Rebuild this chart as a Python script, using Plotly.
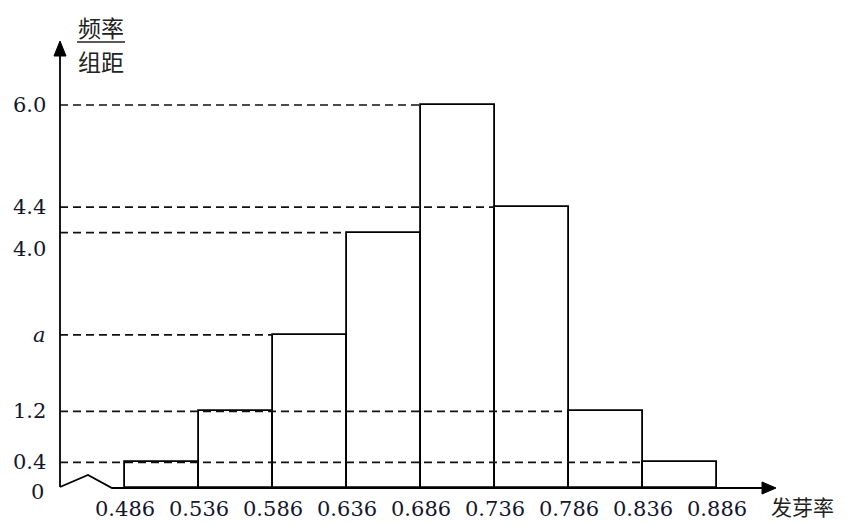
import plotly.graph_objects as go

# ---- data ----
edges = [0.486, 0.536, 0.586, 0.636, 0.686, 0.736, 0.786, 0.836, 0.886]
heights = [0.4, 1.2, 2.4, 4.0, 6.0, 4.4, 1.2, 0.4]
edge_labels = ["0.486", "0.536", "0.586", "0.636", "0.686", "0.736", "0.786", "0.836", "0.886"]
y_ticks = [6.0, 4.4, 4.0, 2.4, 1.2, 0.4, 0]
y_tick_labels = ["6.0", "4.4", "4.0", "<i>a</i>", "1.2", "0.4", "0"]

# page is rendered with an 8px body margin; compensate
OFF = 8
PW, PH = 847, 524
W, H = PW - OFF, PH - OFF

# scale: 1480 px per x unit, x=0 at page px -594.3 ; 63.83 px per y unit, y=0 at page px 488
XS, XZ = 1480.0, -594.3
YS, YZ = 63.83, 488.0


def x_of_px(p):
    return (p - XZ) / XS


def y_of_px(p):
    return (YZ - p) / YS


X0, X1 = x_of_px(OFF), x_of_px(PW)
Y1, Y0 = y_of_px(OFF), y_of_px(PH)

INK = "#15152e"
SERIF = "DejaVu Serif"
CJK = "Noto Sans CJK SC"

centers = [(edges[i] + edges[i + 1]) / 2 for i in range(len(heights))]
bw = edges[1] - edges[0]

fig = go.Figure()

# dashed reference lines: from the y axis to the left edge of the last bar of that height
axis_x = x_of_px(60)
for h in sorted(set(heights)):
    idx = max(i for i, v in enumerate(heights) if v == h)
    fig.add_trace(go.Scatter(
        x=[axis_x, edges[idx]], y=[h, h], mode="lines",
        line=dict(color="#111", width=1.7, dash="8px,5px"),
        hoverinfo="skip", showlegend=False))

fig.add_trace(go.Bar(
    x=centers, y=heights, width=bw,
    marker=dict(color="rgba(0,0,0,0)", line=dict(color="black", width=1.8)),
    showlegend=False, hoverinfo="skip"))

# axes
zig_x = [axis_x, x_of_px(88), x_of_px(112), x_of_px(770)]
zig_y = [y_of_px(487), y_of_px(475), 0, 0]
fig.add_trace(go.Scatter(x=zig_x, y=zig_y, mode="lines",
                         line=dict(color="black", width=1.8),
                         hoverinfo="skip", showlegend=False))
fig.add_trace(go.Scatter(x=[axis_x, axis_x], y=[y_of_px(487), y_of_px(50)], mode="lines",
                         line=dict(color="black", width=1.8),
                         hoverinfo="skip", showlegend=False))

# arrowheads (filled triangles)
tipx = x_of_px(776)
fig.add_shape(type="path",
              path=f"M {x_of_px(762)} {y_of_px(482)} L {tipx} 0 L {x_of_px(762)} {y_of_px(494)} Z",
              fillcolor="black", line=dict(color="black", width=1))
tipy = y_of_px(41)
fig.add_shape(type="path",
              path=f"M {x_of_px(54)} {y_of_px(56)} L {axis_x} {tipy} L {x_of_px(66)} {y_of_px(56)} Z",
              fillcolor="black", line=dict(color="black", width=1))

# x tick labels
for e, lab in zip(edges, edge_labels):
    fig.add_annotation(x=e, y=y_of_px(509), text=lab, showarrow=False,
                       xanchor="center", yanchor="middle",
                       font=dict(family=SERIF, size=21, color=INK))

# y tick labels
yshift = {4.0: -16, 0: -4}
for v, lab in zip(y_ticks, y_tick_labels):
    fig.add_annotation(x=x_of_px(48 if v != 0 else 46), y=v, text=lab, showarrow=False,
                       xanchor="right", yanchor="middle", yshift=yshift.get(v, 0),
                       font=dict(family=SERIF, size=21, color=INK))

# axis titles
fig.add_annotation(x=x_of_px(101), y=y_of_px(27), text="频率", showarrow=False,
                   xanchor="center", yanchor="middle",
                   font=dict(family=CJK, size=23, color="#222"))
fig.add_shape(type="line", x0=x_of_px(77), x1=x_of_px(125), y0=y_of_px(42), y1=y_of_px(42),
              line=dict(color="#222", width=1.5))
fig.add_annotation(x=x_of_px(101), y=y_of_px(61), text="组距", showarrow=False,
                   xanchor="center", yanchor="middle",
                   font=dict(family=CJK, size=23, color="#222"))
fig.add_annotation(x=x_of_px(769), y=y_of_px(506), text="发芽率", showarrow=False,
                   xanchor="left", yanchor="middle",
                   font=dict(family=CJK, size=21, color="#222"))

fig.update_layout(
    width=W, height=H, autosize=False,
    margin=dict(l=0, r=0, t=0, b=0),
    paper_bgcolor="white", plot_bgcolor="white",
    xaxis=dict(range=[X0, X1], visible=False, fixedrange=True),
    yaxis=dict(range=[Y0, Y1], visible=False, fixedrange=True),
    bargap=0, showlegend=False,
)

fig.write_html("out.html")
